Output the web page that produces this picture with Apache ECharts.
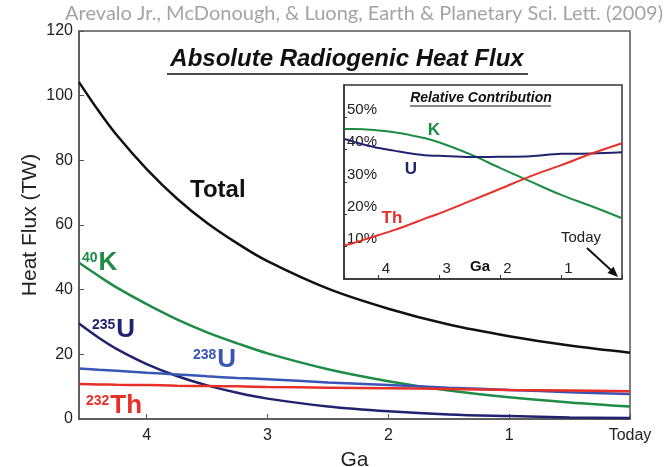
<!DOCTYPE html>
<html>
<head>
<meta charset="utf-8">
<script src="https://cdn.jsdelivr.net/npm/echarts@6/dist/echarts.min.js"></script>
<style>
  html, body { margin: 0; padding: 0; background: #fff; }
  #chart { width: 666px; height: 467px; }
</style>
</head>
<body>
<div id="chart"></div>
<script>
  // time before present, Ga
  const gaPts = [4.56, 4.4, 4.25, 4.0, 3.75, 3.5, 3.25, 3.0, 2.5, 2.0, 1.5, 1.0, 0.5, 0];

  // absolute heat flux, TW
  const totalFlux = [104.2, 95.4, 87.9, 77.3, 68.2, 60.6, 54.3, 48.8, 40.3, 34.1, 29.2, 25.6, 22.7, 20.5];
  const k40Flux   = [48.3, 44.3, 40.7, 35.5, 30.8, 26.8, 23.4, 20.3, 15.4, 11.7, 8.8, 6.7, 5.1, 3.85];
  const u235Flux  = [29.5, 25.2, 21.7, 17.0, 13.3, 10.4, 8.1, 6.3, 3.9, 2.4, 1.4, 0.9, 0.5, 0.33];
  const u238Flux  = [15.6, 15.2, 14.9, 14.3, 13.8, 13.2, 12.7, 12.3, 11.3, 10.5, 9.7, 9.0, 8.3, 7.7];
  const th232Flux = [10.8, 10.7, 10.6, 10.5, 10.3, 10.2, 10.1, 9.9, 9.7, 9.5, 9.3, 9.0, 8.8, 8.6];

  // relative contribution, %
  const relK  = [46.4, 46.4, 46.3, 45.9, 45.4, 44.6, 43.6, 42.2, 38.6, 34.3, 30.1, 26.0, 22.5, 18.8];
  const relU  = [43.3, 42.4, 41.6, 40.5, 39.7, 38.9, 38.3, 38.1, 37.7, 37.8, 38.0, 38.7, 38.8, 39.2];
  const relTh = [10.4, 11.2, 12.1, 13.6, 15.1, 16.8, 18.6, 20.3, 24.1, 27.9, 31.8, 35.2, 38.8, 42.0];

  const mainTicks = ['Today', '1', '2', '3', '4'];

  const FONT = '"Liberation Sans", Arial, sans-serif';
  const C_TOTAL = '#111111', C_K = '#1e8c45', C_U235 = '#22226e', C_U238 = '#3a55b4', C_TH = '#e8302a';

  function pairs(vals) {
    return gaPts.map((g, i) => [g, vals[i]]);
  }

  function curve(name, vals, color, xi, width) {
    return {
      name: name, type: 'line', xAxisIndex: xi, yAxisIndex: xi,
      data: pairs(vals), smooth: 0.35, showSymbol: false, animation: false,
      lineStyle: { color: color, width: width }, itemStyle: { color: color }, z: 3
    };
  }

  // label with a small superscript mass number
  function isotope(x, y, mass, sym, color) {
    return {
      type: 'text', x: x, y: y, z: 10,
      style: {
        text: '{s|' + mass + '}{b|' + sym + '}', verticalAlign: 'middle',
        rich: {
          s: { fontSize: 14, fontWeight: 'bold', fill: color, fontFamily: FONT, verticalAlign: 'top', padding: [1, 1, 0, 0] },
          b: { fontSize: 26, fontWeight: 'bold', fill: color, fontFamily: FONT }
        }
      }
    };
  }

  const myChart = echarts.init(document.getElementById('chart'));

  const option = {
    backgroundColor: '#fff',
    textStyle: { fontFamily: FONT },
    grid: [
      { left: 79, top: 31, right: 36, bottom: 48, show: true, borderColor: '#555', borderWidth: 1.5,
        outerBoundsMode: 'none', containLabel: false },
      { left: 344, top: 85, width: 278, height: 194, show: true, borderColor: '#333', borderWidth: 1.5,
        backgroundColor: '#fff', outerBoundsMode: 'none', containLabel: false }
    ],
    xAxis: [
      {
        type: 'value', gridIndex: 0, min: 0, max: 4.56, interval: 1, inverse: true,
        name: 'Ga', nameLocation: 'middle', nameGap: 31, nameMoveOverlap: false,
        nameTextStyle: { fontSize: 21, color: '#222', fontFamily: FONT },
        axisLine: { onZero: false, lineStyle: { color: '#555', width: 1.5 } },
        axisTick: { inside: true, length: 5, lineStyle: { color: '#555' } },
        splitLine: { show: false },
        axisLabel: {
          fontSize: 16, color: '#222', margin: 9, showMaxLabel: false, fontFamily: FONT,
          formatter: v => (Number.isInteger(v) ? mainTicks[v] : '')
        }
      },
      {
        type: 'value', gridIndex: 1, min: 0, max: 4.57, interval: 1, inverse: true,
        axisLine: { onZero: false, lineStyle: { color: '#333', width: 1.5 } },
        axisTick: { inside: true, length: 4, lineStyle: { color: '#333' } },
        splitLine: { show: false },
        axisLabel: {
          inside: true, fontSize: 15, color: '#222', margin: 3, align: 'left', fontFamily: FONT,
          padding: [0, 0, 0, 3],
          formatter: v => (Number.isInteger(v) && v > 0 ? String(v) : '')
        }
      }
    ],
    yAxis: [
      {
        type: 'value', gridIndex: 0, min: 0, max: 120, interval: 20,
        name: 'Heat Flux (TW)', nameLocation: 'middle', nameGap: 38, nameMoveOverlap: false,
        nameTextStyle: { fontSize: 21, color: '#222', fontFamily: FONT },
        axisLine: { show: true, onZero: false, lineStyle: { color: '#555', width: 1.5 } },
        axisTick: { show: true, inside: true, length: 5, lineStyle: { color: '#555' } },
        splitLine: { show: false },
        axisLabel: { fontSize: 16, color: '#222', margin: 6, fontFamily: FONT }
      },
      {
        type: 'value', gridIndex: 1, min: 0, max: 60, interval: 10,
        axisLine: { show: true, onZero: false, lineStyle: { color: '#333', width: 1.5 } },
        axisTick: { show: true, inside: true, length: 3, lineStyle: { color: '#333' } },
        splitLine: { show: false },
        axisLabel: {
          inside: true, fontSize: 15, color: '#222', margin: 3, verticalAlign: 'bottom', fontFamily: FONT,
          showMinLabel: false, showMaxLabel: false,
          formatter: v => v + '%'
        }
      }
    ],
    series: [
      curve('Total', totalFlux, C_TOTAL, 0, 2.5),
      curve('40K', k40Flux, C_K, 0, 2.5),
      curve('235U', u235Flux, C_U235, 0, 2.5),
      curve('238U', u238Flux, C_U238, 0, 2.5),
      curve('232Th', th232Flux, C_TH, 0, 2.5),
      curve('K', relK, C_K, 1, 2),
      curve('U', relU, C_U235, 1, 2),
      curve('Th', relTh, C_TH, 1, 2)
    ],
    graphic: [
      { type: 'text', x: 663, y: 14, z: 10,
        style: { text: 'Arevalo Jr., McDonough, & Luong, Earth & Planetary Sci. Lett. (2009)',
                 fill: '#a4a4a4', fontSize: 20, fontFamily: 'Lato, "Open Sans", sans-serif',
                 align: 'right', verticalAlign: 'middle' } },
      { type: 'text', x: 347, y: 59, z: 10,
        style: { text: 'Absolute Radiogenic Heat Flux', fill: '#111', fontSize: 24, fontWeight: 'bold',
                 fontStyle: 'italic', fontFamily: FONT, align: 'center', verticalAlign: 'middle' } },
      { type: 'line', z: 10, shape: { x1: 167, y1: 74, x2: 528, y2: 74 }, style: { stroke: '#111', lineWidth: 1.5 } },
      { type: 'text', x: 190, y: 190, z: 10,
        style: { text: 'Total', fill: C_TOTAL, fontSize: 24, fontWeight: 'bold', fontFamily: FONT, verticalAlign: 'middle' } },
      isotope(82, 263, '40', 'K', C_K),
      isotope(92, 330, '235', 'U', C_U235),
      isotope(193, 360, '238', 'U', C_U238),
      isotope(86, 406, '232', 'Th', C_TH),
      { type: 'text', x: 481, y: 98, z: 10,
        style: { text: 'Relative Contribution', fill: '#111', fontSize: 14, fontWeight: 'bold', fontStyle: 'italic',
                 fontFamily: FONT, align: 'center', verticalAlign: 'middle' } },
      { type: 'line', z: 10, shape: { x1: 410, y1: 106, x2: 551, y2: 106 }, style: { stroke: '#111', lineWidth: 1 } },
      { type: 'text', x: 434, y: 130, z: 10,
        style: { text: 'K', fill: C_K, fontSize: 17, fontWeight: 'bold', fontFamily: FONT, align: 'center', verticalAlign: 'middle' } },
      { type: 'text', x: 411, y: 169, z: 10,
        style: { text: 'U', fill: C_U235, fontSize: 17, fontWeight: 'bold', fontFamily: FONT, align: 'center', verticalAlign: 'middle' } },
      { type: 'text', x: 392, y: 218, z: 10,
        style: { text: 'Th', fill: C_TH, fontSize: 17, fontWeight: 'bold', fontFamily: FONT, align: 'center', verticalAlign: 'middle' } },
      { type: 'text', x: 581, y: 238, z: 10,
        style: { text: 'Today', fill: '#222', fontSize: 15, fontFamily: FONT, align: 'center', verticalAlign: 'middle' } },
      { type: 'text', x: 480, y: 267, z: 10,
        style: { text: 'Ga', fill: '#111', fontSize: 15, fontWeight: 'bold', fontFamily: FONT, align: 'center', verticalAlign: 'middle' } },
      { type: 'line', z: 10, shape: { x1: 587, y1: 248, x2: 612, y2: 271 }, style: { stroke: '#111', lineWidth: 2 } },
      { type: 'polygon', z: 10, shape: { points: [[618, 277], [607.5, 273], [613.5, 266.5]] }, style: { fill: '#111' } }
    ]
  };

  myChart.setOption(option);
</script>
</body>
</html>
